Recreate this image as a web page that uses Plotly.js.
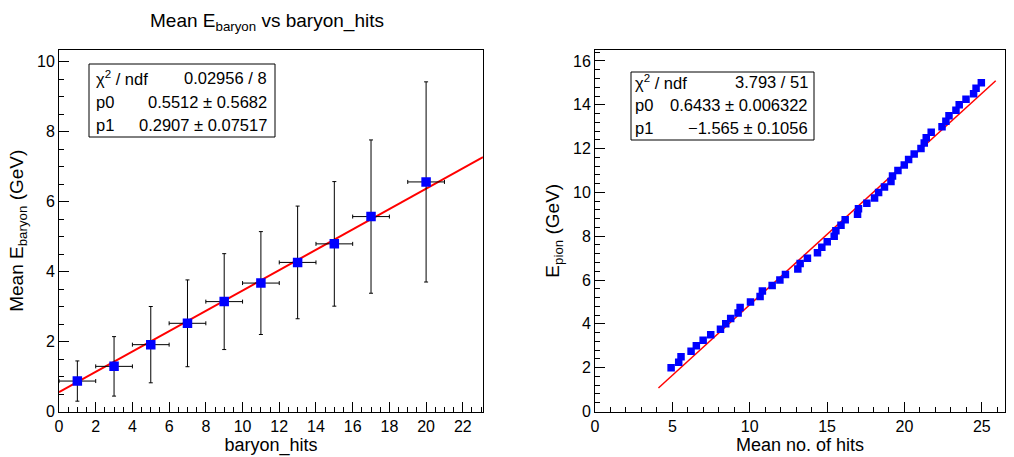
<!DOCTYPE html>
<html><head><meta charset="utf-8">
<script src="https://cdn.plot.ly/plotly-3.0.1.min.js"></script>
<style>html,body{margin:0;padding:0;background:#fff}#chart{width:1014px;height:457px}</style>
</head><body><div id="chart"></div>
<script>
// Left panel: Mean E_baryon vs baryon_hits
const baryonHits = [1, 3, 5, 7, 9, 11, 13, 15, 17, 20];
const baryonHitsErr = [1, 1, 1, 1, 1, 1, 1, 1, 1, 1];
const meanEBaryon = [0.87, 1.29, 1.91, 2.52, 3.14, 3.67, 4.26, 4.79, 5.57, 6.56];
const meanEBaryonErr = [0.575, 0.85, 1.09, 1.24, 1.37, 1.47, 1.61, 1.78, 2.19, 2.86];
const leftFitParams = [0.5512, 0.2907];   // p0, p1
const leftFitRange = [0, 23.1];
const leftStatsLabels = ['χ<sup>2</sup> / ndf', 'p0', 'p1'];
const leftStatsValues = ['0.02956 / 8', '0.5512 ± 0.5682', '0.2907 ± 0.07517'];

// Right panel: E_pion vs mean number of hits
const pionMeanHits = [4.92, 5.41, 5.56, 6.21, 6.55, 6.99, 7.48, 8.11, 8.45, 8.77, 9.25, 9.38, 10.05, 10.67, 10.82, 11.45, 11.95, 12.31, 13.11, 13.26, 13.73, 14.38, 14.66, 15.01, 15.46, 15.57, 15.9, 16.17, 16.97, 17.03, 17.57, 18.07, 18.33, 18.71, 19.13, 19.23, 19.58, 19.99, 20.27, 20.63, 21.07, 21.28, 21.41, 21.73, 22.43, 22.68, 22.88, 23.33, 23.54, 23.98, 24.47, 24.63, 24.97];
const pionEnergy = [2, 2.25, 2.5, 2.75, 3, 3.25, 3.5, 3.75, 4, 4.25, 4.5, 4.75, 5, 5.25, 5.5, 5.75, 6, 6.25, 6.5, 6.75, 7, 7.25, 7.5, 7.75, 8, 8.25, 8.5, 8.75, 9, 9.25, 9.5, 9.75, 10, 10.25, 10.5, 10.75, 11, 11.25, 11.5, 11.75, 12, 12.25, 12.5, 12.75, 13, 13.25, 13.5, 13.75, 14, 14.25, 14.5, 14.75, 15];
const rightFitParams = [0.6433, -1.565];  // slope p0, intercept p1
const rightFitRange = [4.1, 25.9];
const rightStatsLabels = ['χ<sup>2</sup> / ndf', 'p0', 'p1'];
const rightStatsValues = ['3.793 / 51', '0.6433 ± 0.006322', '−1.565 ± 0.1056'];

const W = 1014, H = 457;
const px = v => v / W, py = v => 1 - v / H;
const FONT = 'Liberation Sans, Arial, Helvetica, sans-serif';

const leftFitY = leftFitRange.map(x => leftFitParams[0] + leftFitParams[1] * x);
const rightFitY = rightFitRange.map(x => rightFitParams[0] * x + rightFitParams[1]);

const traces = [
  {x: leftFitRange, y: leftFitY, xaxis: 'x', yaxis: 'y', mode: 'lines',
   line: {color: '#ff0000', width: 2}, hoverinfo: 'skip', showlegend: false},
  {x: baryonHits, y: meanEBaryon, xaxis: 'x', yaxis: 'y', mode: 'markers', type: 'scatter',
   marker: {symbol: 'square', size: 9.5, color: '#0000ff', line: {width: 0}},
   error_x: {type: 'data', array: baryonHitsErr, color: '#000', thickness: 1, width: 2},
   error_y: {type: 'data', array: meanEBaryonErr, color: '#000', thickness: 1, width: 2},
   showlegend: false},
  {x: rightFitRange, y: rightFitY, xaxis: 'x2', yaxis: 'y2', mode: 'lines',
   line: {color: '#ff0000', width: 1.5}, hoverinfo: 'skip', showlegend: false},
  {x: pionMeanHits, y: pionEnergy, xaxis: 'x2', yaxis: 'y2', mode: 'markers', type: 'scatter',
   marker: {symbol: 'square', size: 7.5, color: '#0000ff', line: {width: 0}},
   showlegend: false}
];

const axisBase = {
  showline: true, linecolor: '#000', linewidth: 1, mirror: true,
  showgrid: false, zeroline: false, ticks: 'inside', ticklen: 10, tickcolor: '#000',
  tickfont: {family: FONT, size: 16, color: '#000'}, fixedrange: true
};

const layout = {
  width: W, height: H,
  margin: {l: 0, r: 0, t: 0, b: 0},
  paper_bgcolor: '#fff', plot_bgcolor: '#fff',
  font: {family: FONT, color: '#000'},
  showlegend: false,
  title: {text: 'Mean E<sub>baryon</sub> vs baryon_hits', x: px(267), y: py(20),
          xanchor: 'center', yanchor: 'middle', font: {family: FONT, size: 19, color: '#000'}},
  xaxis: Object.assign({}, axisBase, {
    domain: [px(59), px(483)], range: [0, 23.1], tick0: 0, dtick: 2, anchor: 'y',
    minor: {dtick: 0.5, ticklen: 5, ticks: 'inside', tickcolor: '#000', showgrid: false},
    title: {text: 'baryon_hits', font: {family: FONT, size: 18, color: '#000'}, standoff: 0}
  }),
  yaxis: Object.assign({}, axisBase, {
    domain: [py(411.5), py(50)], range: [0, 10.33], tick0: 0, dtick: 2, anchor: 'x',
    minor: {dtick: 0.5, ticklen: 5, ticks: 'inside', tickcolor: '#000', showgrid: false},
    title: {text: 'Mean E<sub>baryon</sub> (GeV)', font: {family: FONT, size: 19, color: '#000'}, standoff: 8}
  }),
  xaxis2: Object.assign({}, axisBase, {
    domain: [px(595), px(1005)], range: [0, 26.5], tick0: 0, dtick: 5, anchor: 'y2',
    minor: {dtick: 1, ticklen: 5, ticks: 'inside', tickcolor: '#000', showgrid: false},
    title: {text: 'Mean no. of hits', font: {family: FONT, size: 18, color: '#000'}, standoff: 2}
  }),
  yaxis2: Object.assign({}, axisBase, {
    domain: [py(411.5), py(50)], range: [0, 16.5], tick0: 0, dtick: 2, anchor: 'x2',
    minor: {dtick: 0.4, ticklen: 5, ticks: 'inside', tickcolor: '#000', showgrid: false},
    title: {text: 'E<sub>pion</sub> (GeV)', font: {family: FONT, size: 19, color: '#000'}, standoff: 8}
  }),
  shapes: [
    {type: 'rect', xref: 'paper', yref: 'paper', x0: px(89), x1: px(275), y0: py(137), y1: py(64),
     line: {color: '#000', width: 1}, fillcolor: '#fff', layer: 'above'},
    {type: 'rect', xref: 'paper', yref: 'paper', x0: px(631), x1: px(814), y0: py(140), y1: py(72),
     line: {color: '#000', width: 1}, fillcolor: '#fff', layer: 'above'}
  ],
  annotations: []
};

const rowYLeft = [78, 102, 125];
const rowYRight = [82, 105, 128];
function addStats(labels, values, rows, xl, xr) {
  labels.forEach((t, i) => layout.annotations.push({
    text: t, xref: 'paper', yref: 'paper', x: px(xl), y: py(rows[i]), xanchor: 'left', yanchor: 'middle',
    showarrow: false, font: {family: FONT, size: 16.5, color: '#000'}}));
  values.forEach((t, i) => layout.annotations.push({
    text: t, xref: 'paper', yref: 'paper', x: px(xr), y: py(rows[i]), xanchor: 'right', yanchor: 'middle',
    showarrow: false, font: {family: FONT, size: 16.5, color: '#000'}}));
}
addStats(leftStatsLabels, leftStatsValues, rowYLeft, 94, 269);
addStats(rightStatsLabels, rightStatsValues, rowYRight, 633, 810);

Plotly.newPlot('chart', traces, layout, {displayModeBar: false, staticPlot: true});
</script>
</body></html>
